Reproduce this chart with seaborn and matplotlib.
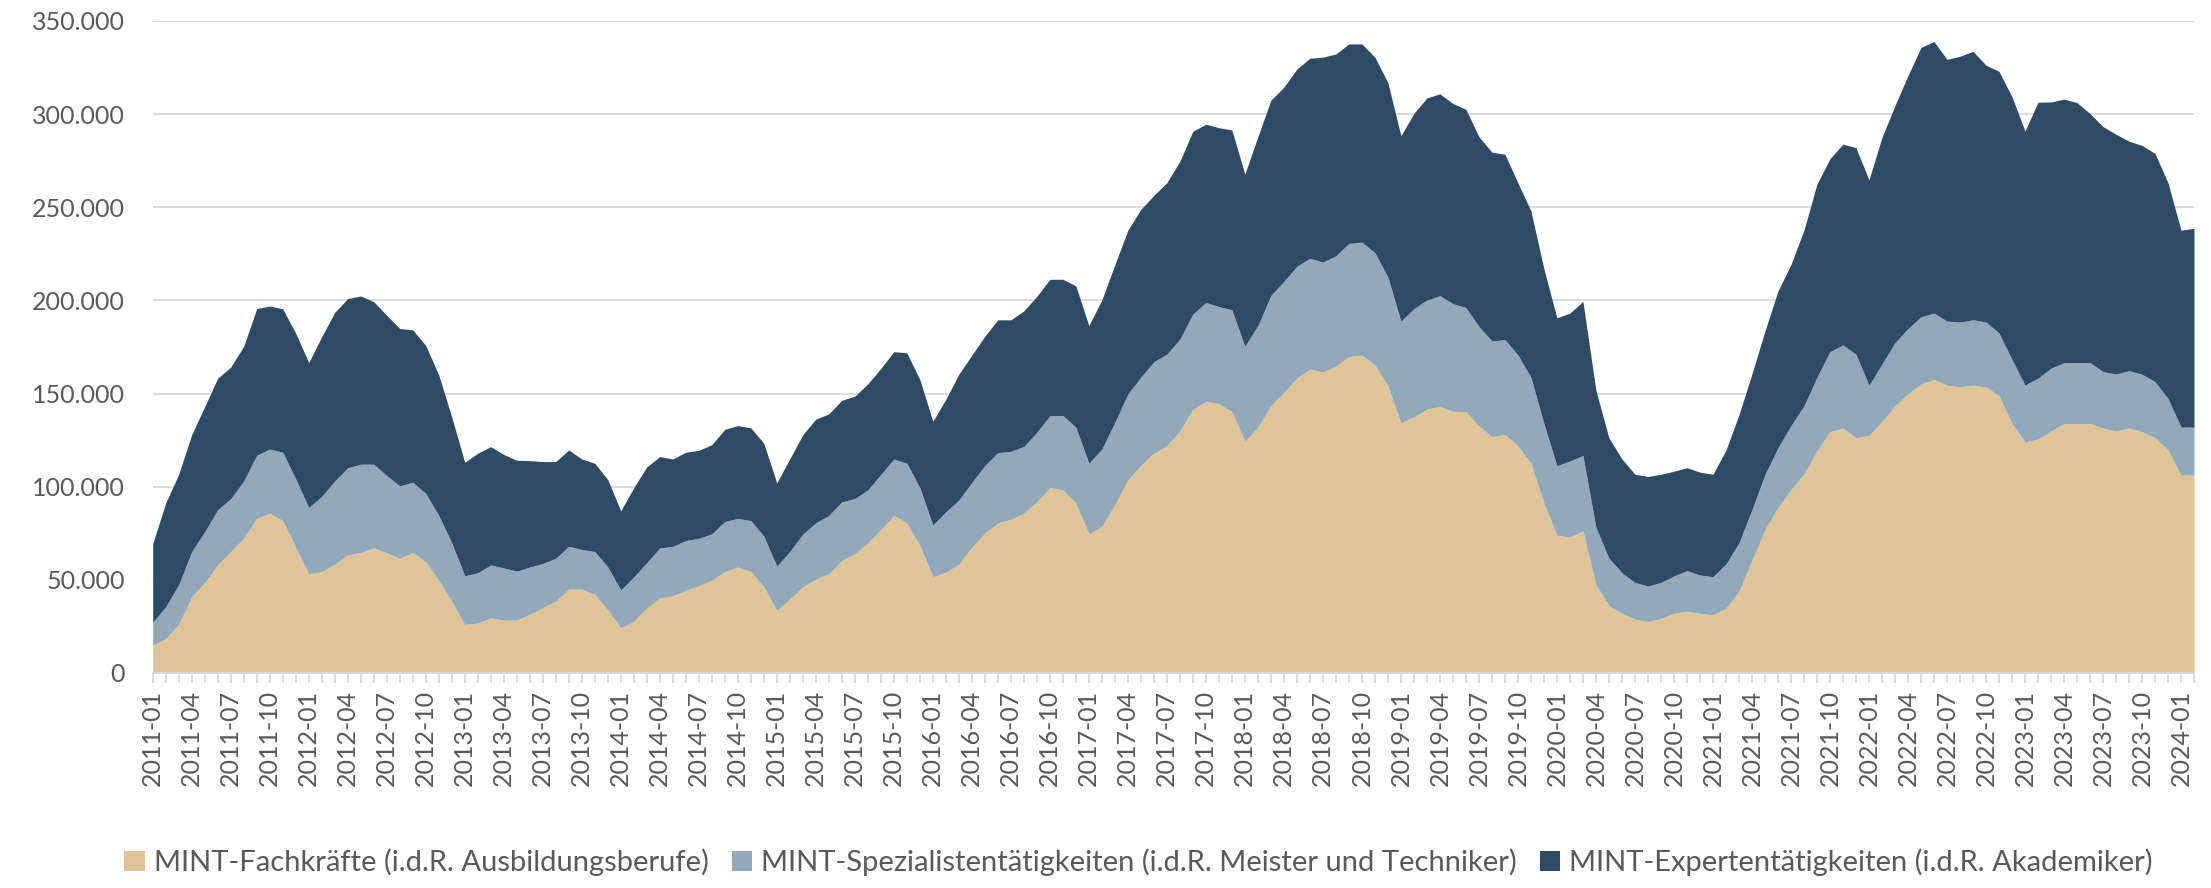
import numpy as np
import pandas as pd
import seaborn as sns
import matplotlib
matplotlib.use("Agg")
import matplotlib.pyplot as plt
from matplotlib.patches import Patch
from matplotlib.ticker import FuncFormatter

# ---- data (values in thousands) ----
months = pd.period_range("2011-01", "2024-02", freq="M").strftime("%Y-%m").tolist()

fachkraefte = [
    14.9, 18.5, 26.1, 41.0, 48.6, 58.1, 65.2, 72.3, 83.0, 85.8,
    81.8, 67.5, 53.3, 54.3, 58.5, 63.3, 64.7, 67.1, 64.5, 61.6,
    64.7, 59.7, 49.8, 38.4, 26.1, 26.8, 29.6, 28.4, 28.4, 31.5,
    35.1, 38.6, 45.0, 45.0, 42.2, 33.9, 24.2, 27.7, 34.8, 40.3,
    41.5, 44.3, 46.9, 49.8, 54.5, 56.9, 54.5, 46.2, 33.7, 39.6,
    46.2, 50.5, 53.3, 60.4, 64.0, 69.9, 77.0, 84.6, 80.6, 68.5,
    51.7, 54.0, 58.5, 67.5, 75.1, 80.6, 82.5, 85.8, 92.0, 99.5,
    98.4, 91.2, 74.7, 78.7, 90.5, 103.6, 111.4, 118.0, 122.1, 129.9,
    141.5, 145.8, 144.6, 140.3, 124.4, 132.0, 143.4, 150.5, 158.3, 163.1,
    161.6, 164.7, 169.9, 170.6, 165.4, 154.1, 134.4, 137.5, 141.7, 143.1,
    140.5, 140.3, 132.7, 126.8, 128.0, 122.1, 112.6, 91.2, 73.9, 73.0,
    76.3, 47.4, 36.3, 32.0, 28.9, 27.7, 29.2, 32.0, 33.2, 32.0,
    31.3, 34.8, 43.8, 60.4, 77.0, 88.9, 98.4, 106.7, 119.2, 129.6,
    131.5, 126.3, 127.5, 135.1, 143.4, 149.8, 155.2, 157.6, 154.5, 153.6,
    154.5, 153.6, 148.8, 133.9, 124.0, 125.6, 129.9, 133.9, 133.9, 133.9,
    131.5, 129.9, 131.5, 129.6, 126.3, 119.7, 106.2, 106.2,
]

spezialisten = [
    12.3, 17.1, 21.3, 24.2, 27.3, 29.6, 28.4, 30.8, 33.9, 34.4,
    36.7, 36.7, 35.6, 40.5, 44.6, 46.9, 47.4, 45.0, 41.5, 38.9,
    37.7, 36.7, 34.8, 31.5, 26.1, 27.0, 28.4, 28.0, 26.3, 25.4,
    23.7, 23.0, 23.0, 21.3, 23.0, 23.0, 20.4, 23.9, 24.4, 26.8,
    26.5, 26.8, 25.4, 24.9, 26.8, 26.1, 27.3, 27.3, 23.7, 25.6,
    28.4, 30.1, 31.3, 31.5, 29.6, 28.4, 29.6, 30.3, 32.0, 31.0,
    27.7, 32.5, 34.4, 34.8, 36.3, 37.7, 36.5, 35.8, 37.2, 38.6,
    39.8, 40.8, 37.9, 41.5, 44.1, 46.2, 47.4, 49.1, 49.1, 49.3,
    51.2, 53.1, 52.1, 54.7, 51.0, 54.5, 59.3, 59.7, 60.0, 59.5,
    59.0, 59.3, 60.7, 60.7, 60.2, 58.5, 54.5, 58.1, 58.5, 59.5,
    57.8, 55.9, 53.3, 51.4, 51.0, 48.6, 46.2, 42.7, 37.4, 40.8,
    40.5, 30.8, 25.4, 21.8, 19.7, 19.0, 19.4, 20.1, 21.8, 20.6,
    20.4, 23.7, 26.1, 27.3, 29.6, 32.0, 34.4, 36.7, 39.6, 42.9,
    44.6, 44.8, 27.0, 30.8, 33.9, 35.1, 36.0, 35.6, 34.4, 34.8,
    35.1, 34.8, 33.7, 34.4, 30.6, 32.7, 33.7, 32.7, 32.7, 32.7,
    30.3, 30.6, 30.8, 30.8, 30.1, 27.7, 25.8, 25.8,
]

experten = [
    42.2, 55.7, 59.3, 62.8, 67.1, 70.6, 70.6, 72.3, 78.7, 76.8,
    77.0, 78.2, 77.7, 85.8, 90.5, 90.8, 90.3, 87.2, 86.0, 84.4,
    81.8, 79.4, 75.4, 67.5, 60.9, 64.2, 63.5, 60.9, 59.5, 57.1,
    54.7, 51.9, 51.7, 48.6, 47.4, 46.9, 42.4, 47.9, 51.4, 49.1,
    46.9, 47.4, 47.2, 47.9, 49.5, 49.8, 49.8, 49.8, 44.6, 49.8,
    53.3, 55.7, 54.5, 54.5, 55.0, 56.9, 56.9, 57.6, 59.3, 58.1,
    55.7, 60.4, 67.5, 68.3, 69.4, 71.3, 70.6, 72.8, 73.0, 73.2,
    73.2, 75.8, 73.9, 80.1, 84.6, 87.9, 90.1, 89.3, 92.0, 95.5,
    98.1, 95.7, 96.0, 96.5, 92.4, 101.4, 104.8, 104.3, 105.9, 107.4,
    110.0, 108.3, 107.1, 106.4, 105.0, 104.3, 99.5, 104.8, 108.5, 108.3,
    107.4, 106.4, 101.9, 101.4, 99.5, 92.4, 89.3, 83.0, 79.4, 79.4,
    82.7, 73.5, 64.5, 61.1, 58.1, 58.8, 58.1, 56.2, 55.2, 55.2,
    55.0, 61.1, 68.7, 72.8, 77.0, 84.1, 86.5, 94.3, 103.6, 103.6,
    107.8, 110.9, 110.2, 121.6, 127.3, 135.8, 144.6, 145.8, 140.5, 142.7,
    144.1, 137.9, 140.5, 141.0, 136.3, 148.1, 142.9, 141.5, 139.6, 133.7,
    131.5, 128.7, 123.2, 122.8, 122.5, 115.7, 105.7, 106.7,
]

series_labels = [
    "MINT-Fachkräfte (i.d.R. Ausbildungsberufe)",
    "MINT-Spezialistentätigkeiten (i.d.R. Meister und Techniker)",
    "MINT-Expertentätigkeiten (i.d.R. Akademiker)",
]
colors = ["#dfc497", "#92a8bb", "#2e4a64"]
y_ticks = [0, 50000, 100000, 150000, 200000, 250000, 300000, 350000]

df = pd.DataFrame({
    "Monat": months,
    series_labels[0]: np.array(fachkraefte) * 1000,
    series_labels[1]: np.array(spezialisten) * 1000,
    series_labels[2]: np.array(experten) * 1000,
})

# ---- style ----
sns.set_theme(style="white")
plt.rcParams["font.family"] = ["Lato", "DejaVu Sans"]
text_color = "#595959"
grid_color = "#d9d9d9"

fig = plt.figure(figsize=(22.11, 8.88), dpi=100)
ax = fig.add_axes([152.7 / 2211, 1 - 673 / 888, (2194 - 152.7) / 2211, (673 - 21) / 888])

x = np.arange(len(df))
ax.stackplot(x, df[series_labels[0]], df[series_labels[1]], df[series_labels[2]],
             colors=colors, linewidth=0, labels=series_labels)

ax.set_xlim(0, len(df) - 1)
ax.set_ylim(0, 350000)
ax.set_yticks(y_ticks)
ax.yaxis.set_major_formatter(FuncFormatter(lambda v, p: f"{int(v):,}".replace(",", ".")))
ax.yaxis.grid(True, color=grid_color, linewidth=1.3)
ax.xaxis.grid(False)
ax.set_axisbelow(True)

ax.set_xticks(x[::3])
ax.set_xticklabels([months[i] for i in x[::3]], rotation=90)
ax.set_xticks(x, minor=True)
ax.tick_params(axis="x", which="both", length=7, width=1.3, color=grid_color,
               direction="out", bottom=True, pad=5)
ax.tick_params(axis="x", labelsize=18, labelcolor=text_color)
ax.tick_params(axis="y", length=0, labelsize=18, labelcolor=text_color, pad=20)

for s in ["top", "left", "right"]:
    ax.spines[s].set_visible(False)
ax.spines["bottom"].set_color(grid_color)
ax.spines["bottom"].set_linewidth(1.3)
ax.set_xlabel("")
ax.set_ylabel("")

handles = [Patch(facecolor=c, edgecolor="none") for c in colors]
fig.legend(handles, series_labels, loc="center", bbox_to_anchor=(0.515, 0.029),
           ncol=3, frameon=False, fontsize=21, labelcolor=text_color,
           handlelength=0.7, handleheight=0.7, handletextpad=0.3, columnspacing=0.8)

fig.savefig("out.png", dpi=100)
